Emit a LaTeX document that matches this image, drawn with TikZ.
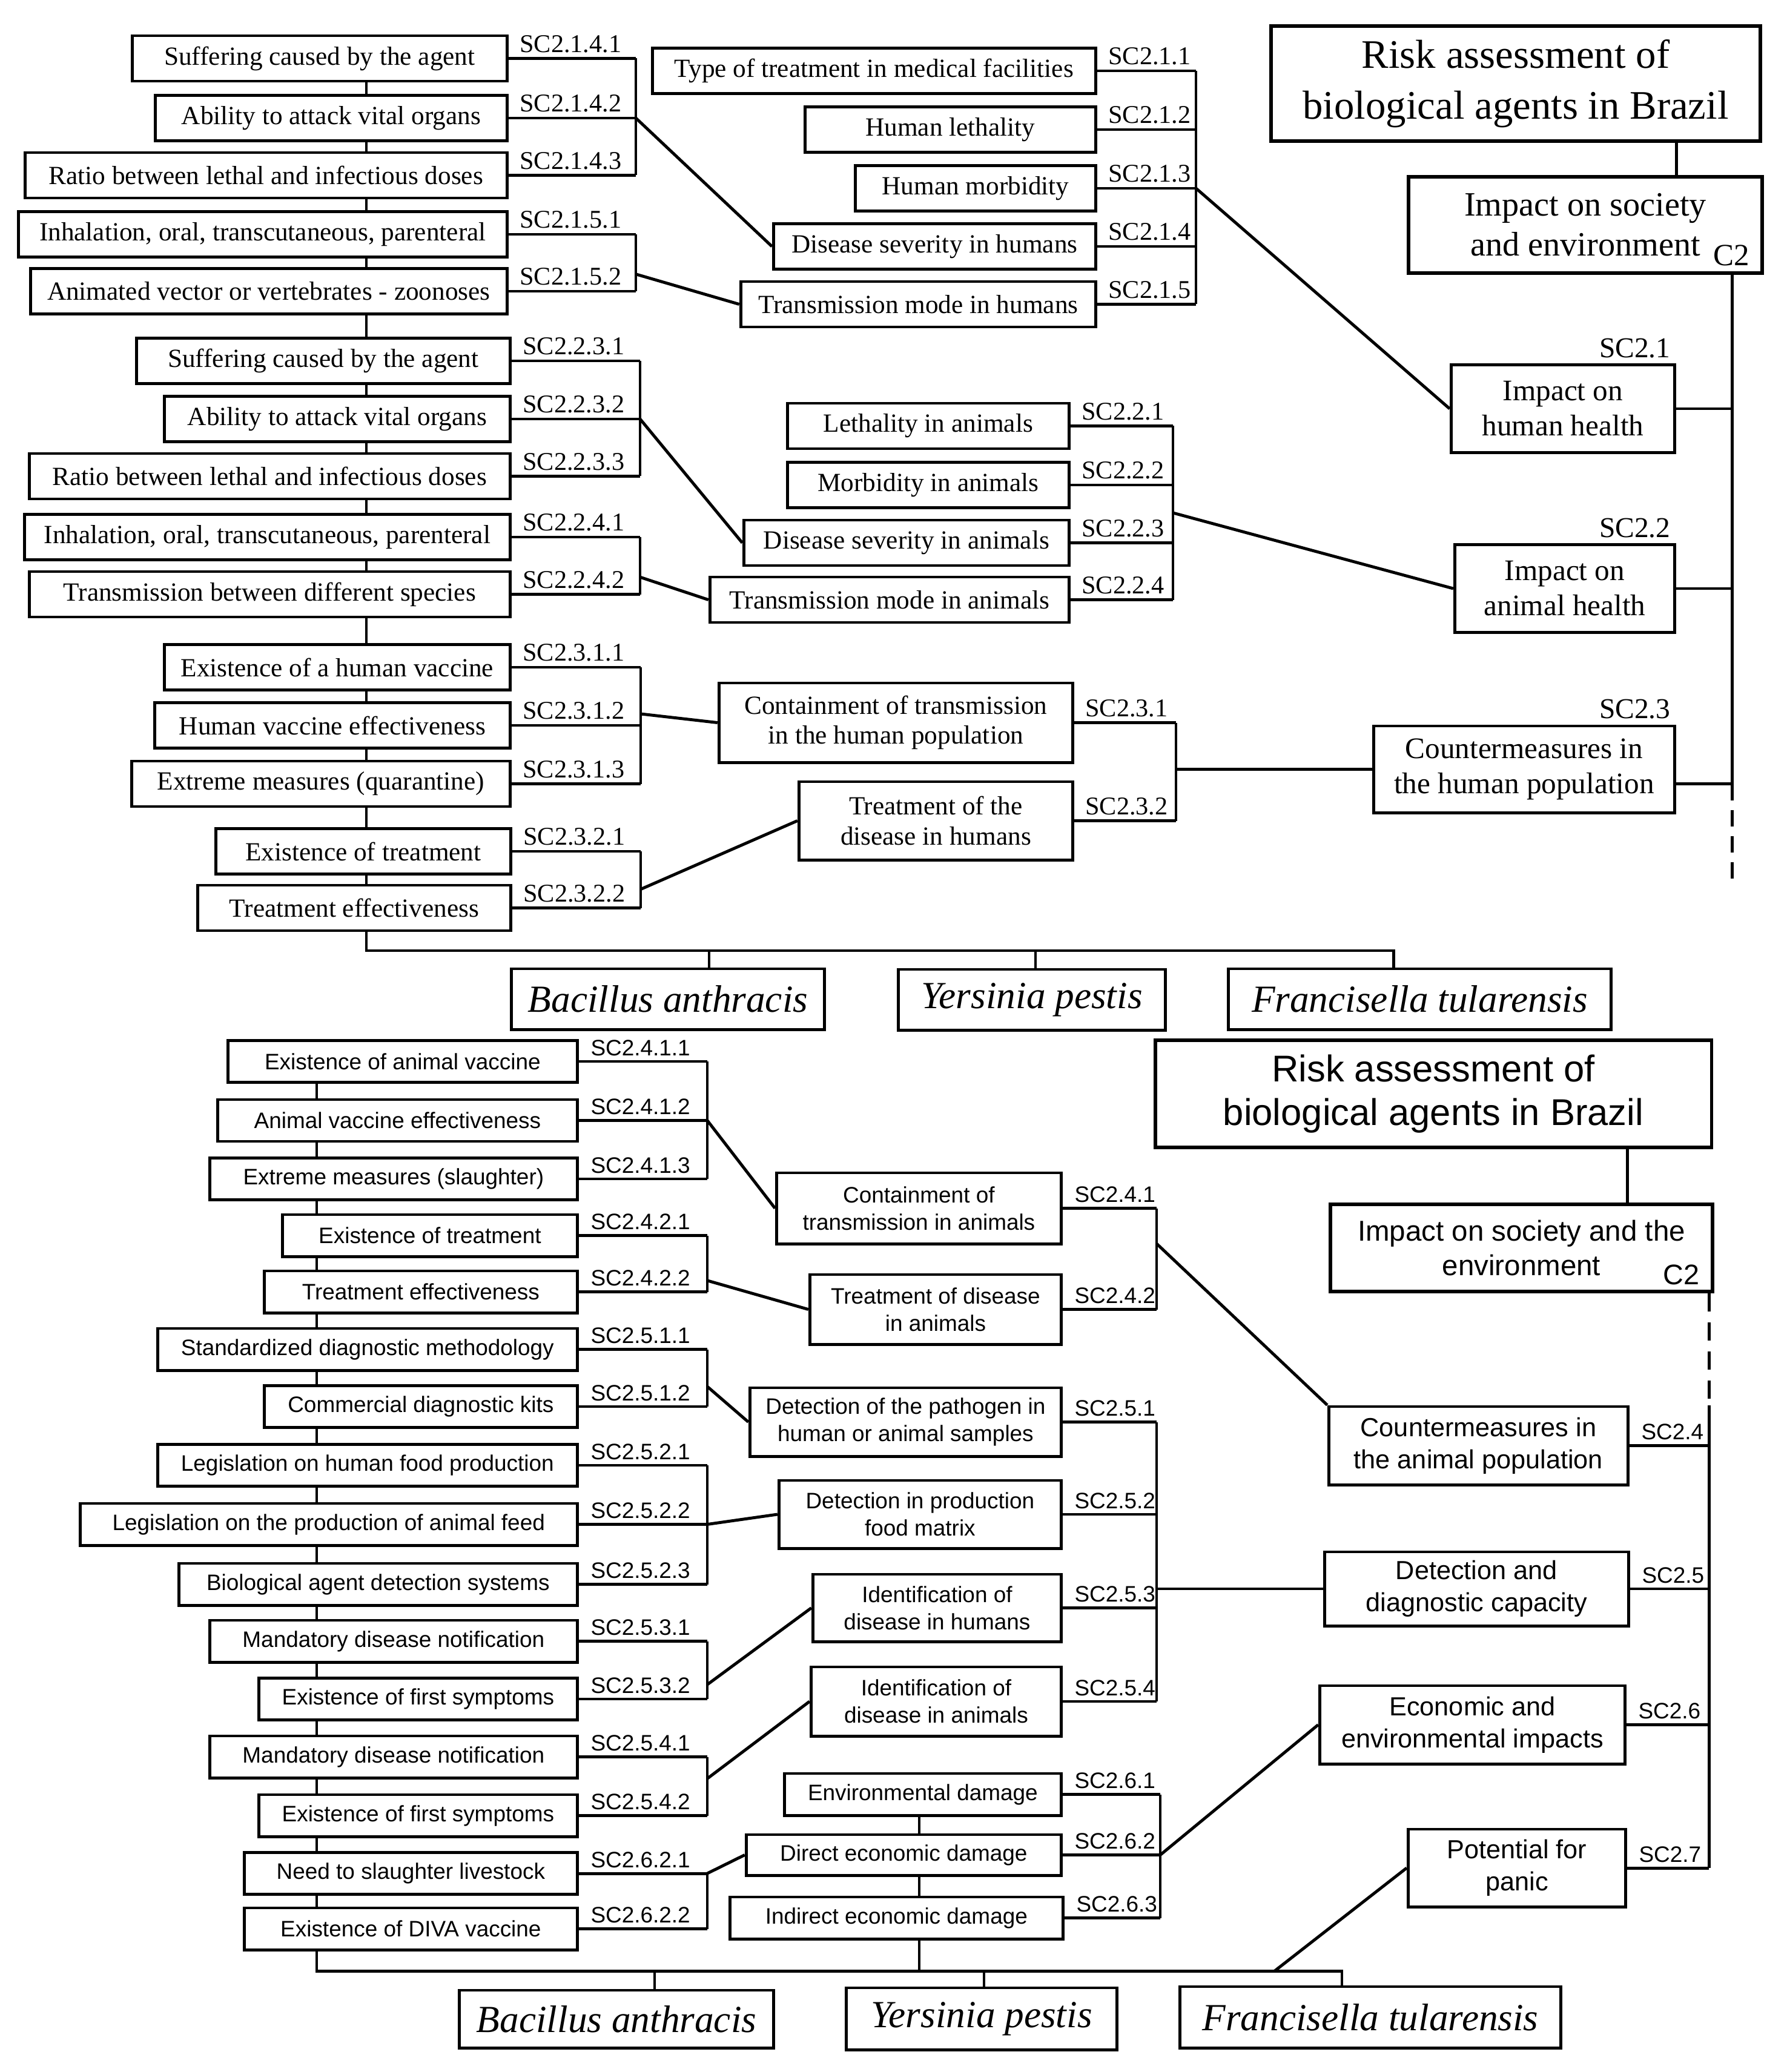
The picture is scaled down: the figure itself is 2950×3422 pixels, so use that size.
\documentclass[tikz,border=0pt]{standalone}
\usepackage{fontspec}
\setmainfont{Liberation Serif}
\setsansfont{Liberation Sans}
\usepackage{tikz}
\usetikzlibrary{positioning, calc, backgrounds}
\tikzstyle{tb}=[%
      rectangle, draw=black, fill=white, inner sep=0pt,
      minimum height=0.75cm, align=center, font=\fontsize{12.3}{14}\selectfont
]
\tikzstyle{tbig}=[%
      tb, font=\fontsize{14}{16.5}\selectfont
]
\tikzstyle{head}=[%
      tb, line width=1.6pt, font=\fontsize{19}{24}\selectfont
]
\tikzstyle{sb}=[%
      tb, minimum height=0.69cm, font=\sffamily\fontsize{10.5}{12.7}\selectfont
]
\tikzstyle{sbig}=[%
      tb, font=\sffamily\fontsize{12.3}{15}\selectfont
]
\tikzstyle{shead}=[%
      tb, line width=1.6pt, font=\sffamily\fontsize{17.5}{20.7}\selectfont
]
\tikzstyle{species}=[%
      rectangle, draw=black, fill=white, inner sep=0pt,
      minimum height=1cm, font=\itshape\fontsize{18}{20}\selectfont
]
\tikzstyle{tlab}=[%
      pos=0, anchor=south west, inner sep=2pt, xshift=0.09cm,
      font=\fontsize{12}{14}\selectfont
]
\tikzstyle{slab}=[%
      tlab, xshift=0.01cm, font=\sffamily\fontsize{10.5}{12}\selectfont
]
\tikzstyle{hlab}=[%
      anchor=south east, inner sep=2pt, font=\fontsize{13.5}{15}\selectfont
]
\tikzstyle{cut}=[dash pattern=on 0.27cm off 0.16cm]
\tikzstyle{bus}=[line width=1.4pt]

\begin{document}
\begin{tikzpicture}[x=0.01cm, y=-0.01cm, line width=1.4pt]
  \useasboundingbox (0,0) rectangle (2950,3422);

  % spines, brackets and buses
  \coordinate (spT) at (605,0);
  \coordinate (spR) at (2860,0);
  \coordinate (lkT) at (2768,0);
  \coordinate (brA) at (1050,0);
  \coordinate (brB) at (1057,0);
  \coordinate (brC) at (1058,0);
  \coordinate (brD) at (1975,0);
  \coordinate (brM) at (1937,0);
  \coordinate (brN) at (1942,0);
  \coordinate (busT) at (2301,1570);
  \coordinate (dB1) at (1171,1570);
  \coordinate (dY1) at (1710,1570);
  \coordinate (endT) at (2860,1463);

  \coordinate (spL) at (523,0);
  \coordinate (spB) at (2822,0);
  \coordinate (spE) at (1518,0);
  \coordinate (lkB) at (2687,0);
  \coordinate (brL) at (1168,0);
  \coordinate (brK) at (1910,0);
  \coordinate (brE) at (1916,0);
  \coordinate (busB) at (2216,3255);
  \coordinate (dB2) at (1081,3255);
  \coordinate (dY2) at (1625,3255);
  \coordinate (dP) at (2105,3255);

  % upper chart (serif)
  \node[head, minimum width=8.08cm, minimum height=1.9cm] (R1) at (2503,138) {Risk assessment of\\biological agents in Brazil};
  \node[tb, font=\fontsize{16}{18.7}\selectfont, minimum width=5.84cm, minimum height=1.59cm, line width=1.6pt] (C2t) at (2618,371.5) {Impact on society\\and environment};
  \node[anchor=south east, inner sep=0pt, font=\fontsize{14.5}{16}\selectfont] (c2t) at ([xshift=-0.22cm, yshift=0.12cm]C2t.south east) {C2};

  \node[tbig, anchor=east, minimum width=3.69cm, minimum height=1.44cm] (H1) at (2768,675) {Impact on\\human health};
  \node[tbig, anchor=east, minimum width=3.63cm, minimum height=1.44cm] (H2) at (2768,972) {Impact on\\animal health};
  \node[tbig, anchor=east, minimum width=4.97cm, minimum height=1.43cm] (H3) at (2768,1270.5) {Countermeasures in\\the human population};
  \node[hlab] (l21) at (H1.north east) {SC2.1};
  \node[hlab] (l22) at (H2.north east) {SC2.2};
  \node[hlab] (l23) at (H3.north east) {SC2.3};
  \coordinate (h3r) at ([yshift=-0.24cm]H3.east);

  \node[tb, anchor=east, minimum width=6.19cm] (A1) at (840,96.5) {Suffering caused by the agent};
  \node[tb, anchor=east, minimum width=5.81cm] (A2) at (840,195) {Ability to attack vital organs};
  \node[tb, anchor=east, minimum width=7.96cm] (A3) at (840,289.5) {Ratio between lethal and infectious doses};
  \node[tb, anchor=east, minimum width=8.07cm] (A4) at (840,387) {Inhalation, oral, transcutaneous, parenteral};
  \node[tb, anchor=east, minimum width=7.87cm] (A5) at (840,481) {Animated vector or vertebrates - zoonoses};

  \node[tb, anchor=east, minimum width=6.17cm] (B1) at (845,596) {Suffering caused by the agent};
  \node[tb, anchor=east, minimum width=5.71cm] (B2) at (845,692) {Ability to attack vital organs};
  \node[tb, anchor=east, minimum width=7.94cm] (B3) at (845,786.5) {Ratio between lethal and infectious doses};
  \node[tb, anchor=east, minimum width=8.02cm] (B4) at (845,887) {Inhalation, oral, transcutaneous, parenteral};
  \node[tb, anchor=east, minimum width=7.94cm] (B5) at (845,981.5) {Transmission between different species};

  \node[tb, anchor=east, minimum width=5.71cm] (C1) at (845,1102) {Existence of a human vaccine};
  \node[tb, anchor=east, minimum width=5.87cm] (V2) at (845,1198) {Human vaccine effectiveness};
  \node[tb, anchor=east, minimum width=6.25cm] (C3) at (845,1294.5) {Extreme measures (quarantine)};
  \node[tb, anchor=east, minimum width=4.87cm] (C4) at (846,1406) {Existence of treatment};
  \node[tb, anchor=east, minimum width=5.17cm] (C5) at (846,1499.5) {Treatment effectiveness};

  \node[tb, anchor=east, minimum width=7.32cm] (D1) at (1812,117) {Type of treatment in medical facilities};
  \node[tb, anchor=east, minimum width=4.80cm] (D2) at (1812,214) {Human lethality};
  \node[tb, anchor=east, minimum width=3.97cm] (D3) at (1812,311) {Human morbidity};
  \node[tb, anchor=east, minimum width=5.32cm] (D4) at (1812,407) {Disease severity in humans};
  \node[tb, anchor=east, minimum width=5.86cm] (D5) at (1812,502.5) {Transmission mode in humans};

  \node[tb, anchor=east, minimum width=4.65cm] (M1) at (1768,703.5) {Lethality in animals};
  \node[tb, anchor=east, minimum width=4.65cm] (M2) at (1768,801) {Morbidity in animals};
  \node[tb, anchor=east, minimum width=5.37cm] (M3) at (1768,896.5) {Disease severity in animals};
  \node[tb, anchor=east, minimum width=5.93cm] (M4) at (1768,990.5) {Transmission mode in animals};

  \node[tb, anchor=east, minimum width=5.84cm, minimum height=1.31cm] (N1) at (1774,1193.5) {Containment of transmission\\in the human population};
  \node[tb, anchor=east, minimum width=4.52cm, minimum height=1.29cm] (N2) at (1774,1355.5) {Treatment of the\\disease in humans};

  \node[species, minimum width=5.16cm] (SP1) at (1103,1650) {Bacillus anthracis};
  \node[species, minimum width=4.40cm] (SP2) at (1704,1651) {Yersinia pestis};
  \node[species, minimum width=6.31cm] (SP3) at (2344.5,1650) {Francisella tularensis};

  % lower chart (sans)
  \node[shead, minimum width=9.18cm, minimum height=1.77cm] (R2) at (2367,1806.5) {Risk assessment of\\biological agents in Brazil};
  \node[tb, font=\sffamily\fontsize{13.5}{16.2}\selectfont, minimum width=6.31cm, minimum height=1.44cm, line width=1.6pt] (C2b) at (2512.5,2061) {Impact on society and the\\environment};
  \node[anchor=south east, inner sep=0pt, font=\sffamily\fontsize{13.3}{15}\selectfont] (c2b) at ([xshift=-0.22cm, yshift=0.11cm]C2b.south east) {C2};

  \node[sbig, anchor=east, minimum width=4.94cm, minimum height=1.29cm] (H4) at (2691,2387.5) {Countermeasures in\\the animal population};
  \node[sbig, anchor=east, minimum width=5.02cm, minimum height=1.22cm] (H5) at (2692,2624) {Detection and\\diagnostic capacity};
  \node[sbig, anchor=east, minimum width=5.04cm, minimum height=1.29cm] (H6) at (2686,2848.5) {Economic and\\environmental impacts};
  \node[sbig, anchor=east, minimum width=3.59cm, minimum height=1.28cm] (H7) at (2687,3085) {Potential for\\panic};

  \node[sb, anchor=east, minimum width=5.77cm] (L1) at (956,1753) {Existence of animal vaccine};
  \node[sb, anchor=east, minimum width=5.94cm] (L2) at (956,1850.5) {Animal vaccine effectiveness};
  \node[sb, anchor=east, minimum width=6.07cm] (L3) at (956,1947) {Extreme measures (slaughter)};
  \node[sb, anchor=east, minimum width=4.87cm] (L4) at (956,2040.5) {Existence of treatment};
  \node[sb, anchor=east, minimum width=5.17cm] (L5) at (956,2133.5) {Treatment effectiveness};
  \node[sb, anchor=east, minimum width=6.93cm] (L6) at (956,2228.5) {Standardized diagnostic methodology};
  \node[sb, anchor=east, minimum width=5.17cm] (L7) at (956,2323) {Commercial diagnostic kits};
  \node[sb, anchor=east, minimum width=6.93cm] (L8) at (956,2420) {Legislation on human food production};
  \node[sb, anchor=east, minimum width=8.21cm] (L9) at (956,2517.5) {Legislation on the production of animal feed};
  \node[sb, anchor=east, minimum width=6.58cm] (L10) at (956,2616.5) {Biological agent detection systems};
  \node[sb, anchor=east, minimum width=6.07cm] (L11) at (956,2710.5) {Mandatory disease notification};
  \node[sb, anchor=east, minimum width=5.26cm] (L12) at (956,2806) {Existence of first symptoms};
  \node[sb, anchor=east, minimum width=6.07cm] (L13) at (956,2901.5) {Mandatory disease notification};
  \node[sb, anchor=east, minimum width=5.26cm] (L14) at (956,2998.5) {Existence of first symptoms};
  \node[sb, anchor=east, minimum width=5.50cm] (L15) at (956,3094) {Need to slaughter livestock};
  \node[sb, anchor=east, minimum width=5.50cm] (L16) at (956,3185.5) {Existence of DIVA vaccine};

  \node[sb, anchor=east, minimum width=4.70cm, minimum height=1.17cm] (K1) at (1755,1995.5) {Containment of\\transmission in animals};
  \node[sb, anchor=east, minimum width=4.15cm, minimum height=1.15cm] (K2) at (1755,2162.5) {Treatment of disease\\in animals};
  \node[sb, anchor=east, minimum width=5.14cm, minimum height=1.13cm] (P1) at (1755,2348.5) {Detection of the pathogen in\\human or animal samples};
  \node[sb, anchor=east, minimum width=4.66cm, minimum height=1.12cm] (P2) at (1755,2501) {Detection in production\\food matrix};
  \node[sb, anchor=east, minimum width=4.10cm, minimum height=1.11cm] (I1) at (1755,2655.5) {Identification of\\disease in humans};
  \node[sb, anchor=east, minimum width=4.13cm, minimum height=1.14cm] (I2) at (1755,2810) {Identification of\\disease in animals};
  \node[sb, anchor=east, minimum width=4.57cm] (E1) at (1755,2963.5) {Environmental damage};
  \node[sb, anchor=east, minimum width=5.20cm, minimum height=0.67cm] (E2) at (1755,3063.5) {Direct economic damage};
  \node[sb, anchor=east, minimum width=5.50cm] (E3) at (1758,3167.5) {Indirect economic damage};

  \node[species, minimum width=5.18cm, minimum height=0.95cm] (SP4) at (1018,3334.5) {Bacillus anthracis};
  \node[species, minimum width=4.46cm, minimum height=1.02cm] (SP5) at (1621,3334) {Yersinia pestis};
  \node[species, minimum width=6.28cm, minimum height=1.01cm] (SP6) at (2263,3331.5) {Francisella tularensis};

  \begin{scope}[on background layer]
    \draw[bus] (A1.south -| spT) |- (busT) -- (busT |- SP3.north);
    \draw[bus] (L1.south -| spL) |- (busB) -- (busB |- SP6.north);
    \draw[bus] (E1.south -| spE) -- (spE |- busB);
  \end{scope}

  % upper connectors
  \draw (R1.south -| lkT) -- (C2t.north -| lkT);
  \draw (C2t.south -| spR) -- (h3r -| spR);
  \draw[cut] (h3r -| spR) -- (endT);
  \draw (H1.east) -- (H1.east -| spR);
  \draw (H2.east) -- (H2.east -| spR);
  \draw (h3r) -- (h3r -| spR);
  \draw (dB1) -- (dB1 |- SP1.north);
  \draw (dY1) -- (dY1 |- SP2.north);

  \path (A1.east) edge node[tlab] {SC2.1.4.1} (A1.east -| brA)
        (A2.east) edge node[tlab] {SC2.1.4.2} (A2.east -| brA)
        (A3.east) edge node[tlab] {SC2.1.4.3} (A3.east -| brA)
        (A4.east) edge node[tlab] {SC2.1.5.1} (A4.east -| brA)
        (A5.east) edge node[tlab] {SC2.1.5.2} (A5.east -| brA)
        (B1.east) edge node[tlab] {SC2.2.3.1} (B1.east -| brB)
        (B2.east) edge node[tlab] {SC2.2.3.2} (B2.east -| brB)
        (B3.east) edge node[tlab] {SC2.2.3.3} (B3.east -| brB)
        (B4.east) edge node[tlab] {SC2.2.4.1} (B4.east -| brB)
        (B5.east) edge node[tlab] {SC2.2.4.2} (B5.east -| brB)
        (C1.east) edge node[tlab] {SC2.3.1.1} (C1.east -| brC)
        (V2.east) edge node[tlab] {SC2.3.1.2} (V2.east -| brC)
        (C3.east) edge node[tlab] {SC2.3.1.3} (C3.east -| brC)
        (C4.east) edge node[tlab] {SC2.3.2.1} (C4.east -| brC)
        (C5.east) edge node[tlab] {SC2.3.2.2} (C5.east -| brC)
        (D1.east) edge node[tlab] {SC2.1.1} (D1.east -| brD)
        (D2.east) edge node[tlab] {SC2.1.2} (D2.east -| brD)
        (D3.east) edge node[tlab] {SC2.1.3} (D3.east -| brD)
        (D4.east) edge node[tlab] {SC2.1.4} (D4.east -| brD)
        (D5.east) edge node[tlab] {SC2.1.5} (D5.east -| brD)
        (M1.east) edge node[tlab] {SC2.2.1} (M1.east -| brM)
        (M2.east) edge node[tlab] {SC2.2.2} (M2.east -| brM)
        (M3.east) edge node[tlab] {SC2.2.3} (M3.east -| brM)
        (M4.east) edge node[tlab] {SC2.2.4} (M4.east -| brM)
        (N1.east) edge node[tlab] {SC2.3.1} (N1.east -| brN)
        (N2.east) edge node[tlab] {SC2.3.2} (N2.east -| brN)
  ;

  \draw (A1.east -| brA) -- (A3.east -| brA);
  \draw (A4.east -| brA) -- (A5.east -| brA);
  \draw (B1.east -| brB) -- (B3.east -| brB);
  \draw (B4.east -| brB) -- (B5.east -| brB);
  \draw (C1.east -| brC) -- (C3.east -| brC);
  \draw (C4.east -| brC) -- (C5.east -| brC);
  \draw (D1.east -| brD) -- (D5.east -| brD);
  \draw (M1.east -| brM) -- (M4.east -| brM);
  \draw (N1.east -| brN) -- (N2.east -| brN);

  \draw (A2.east -| brA) -- (D4.west);
  \draw ($(A4.east -| brA)!0.7!(A5.east -| brA)$) -- (D5.west);
  \draw (B2.east -| brB) -- (M3.west);
  \draw ($(B4.east -| brB)!0.7!(B5.east -| brB)$) -- (M4.west);
  \draw ($(C1.east -| brC)!0.4!(C3.east -| brC)$) -- (N1.west);
  \draw ($(C4.east -| brC)!0.67!(C5.east -| brC)$) -- (N2.west);
  \draw (D3.east -| brD) -- (H1.west);
  \draw ($(M1.east -| brM)!0.5!(M4.east -| brM)$) -- (H2.west);
  \draw (H3.west -| brN) -- (H3.west);

  % lower connectors
  \draw (R2.south -| lkB) -- (C2b.north -| lkB);
  \draw[cut, dash pattern=on 0.3cm off 0.18cm] (C2b.south -| spB) -- (H4.north -| spB);
  \draw (H4.north -| spB) -- (H7.east -| spB);
  \draw (dB2) -- (dB2 |- SP4.north);
  \draw (dY2) -- (dY2 |- SP5.north);
  \draw (E1.south -| spE) -- (E2.north -| spE);

  \path (H4.east) edge node[slab] {SC2.4} (H4.east -| spB)
        (H5.east) edge node[slab] {SC2.5} (H5.east -| spB)
        (H6.east) edge node[slab] {SC2.6} (H6.east -| spB)
        (H7.east) edge node[slab] {SC2.7} (H7.east -| spB)
        (L1.east) edge node[slab] {SC2.4.1.1} (L1.east -| brL)
        (L2.east) edge node[slab] {SC2.4.1.2} (L2.east -| brL)
        (L3.east) edge node[slab] {SC2.4.1.3} (L3.east -| brL)
        (L4.east) edge node[slab] {SC2.4.2.1} (L4.east -| brL)
        (L5.east) edge node[slab] {SC2.4.2.2} (L5.east -| brL)
        (L6.east) edge node[slab] {SC2.5.1.1} (L6.east -| brL)
        (L7.east) edge node[slab] {SC2.5.1.2} (L7.east -| brL)
        (L8.east) edge node[slab] {SC2.5.2.1} (L8.east -| brL)
        (L9.east) edge node[slab] {SC2.5.2.2} (L9.east -| brL)
        (L10.east) edge node[slab] {SC2.5.2.3} (L10.east -| brL)
        (L11.east) edge node[slab] {SC2.5.3.1} (L11.east -| brL)
        (L12.east) edge node[slab] {SC2.5.3.2} (L12.east -| brL)
        (L13.east) edge node[slab] {SC2.5.4.1} (L13.east -| brL)
        (L14.east) edge node[slab] {SC2.5.4.2} (L14.east -| brL)
        (L15.east) edge node[slab] {SC2.6.2.1} (L15.east -| brL)
        (L16.east) edge node[slab] {SC2.6.2.2} (L16.east -| brL)
        (K1.east) edge node[slab] {SC2.4.1} (K1.east -| brK)
        (K2.east) edge node[slab] {SC2.4.2} (K2.east -| brK)
        (P1.east) edge node[slab] {SC2.5.1} (P1.east -| brK)
        (P2.east) edge node[slab] {SC2.5.2} (P2.east -| brK)
        (I1.east) edge node[slab] {SC2.5.3} (I1.east -| brK)
        (I2.east) edge node[slab] {SC2.5.4} (I2.east -| brK)
        (E1.east) edge node[slab] {SC2.6.1} (E1.east -| brE)
        (E2.east) edge node[slab] {SC2.6.2} (E2.east -| brE)
        (E3.east) edge node[slab] {SC2.6.3} (E3.east -| brE)
  ;

  \draw (L1.east -| brL) -- (L3.east -| brL);
  \draw (L4.east -| brL) -- (L5.east -| brL);
  \draw (L6.east -| brL) -- (L7.east -| brL);
  \draw (L8.east -| brL) -- (L10.east -| brL);
  \draw (L11.east -| brL) -- (L12.east -| brL);
  \draw (L13.east -| brL) -- (L14.east -| brL);
  \draw (L15.east -| brL) -- (L16.east -| brL);
  \draw (K1.east -| brK) -- (K2.east -| brK);
  \draw (P1.east -| brK) -- (I2.east -| brK);
  \draw (E1.east -| brE) -- (E3.east -| brE);

  \draw (L2.east -| brL) -- (K1.west);
  \draw ($(L4.east -| brL)!0.8!(L5.east -| brL)$) -- (K2.west);
  \draw ($(L6.east -| brL)!0.65!(L7.east -| brL)$) -- (P1.west);
  \draw (L9.east -| brL) -- (P2.west);
  \draw ($(L11.east -| brL)!0.75!(L12.east -| brL)$) -- (I1.west);
  \draw ($(L13.east -| brL)!0.37!(L14.east -| brL)$) -- (I2.west);
  \draw (L15.east -| brL) -- (E2.west);
  \draw ($(K1.east -| brK)!0.35!(K2.east -| brK)$) -- (H4.north west);
  \draw (H5.west -| brK) -- (H5.west);
  \draw (E2.east -| brE) -- (H6.west);
  \draw (dP) -- (H7.west);

\end{tikzpicture}
\end{document}
